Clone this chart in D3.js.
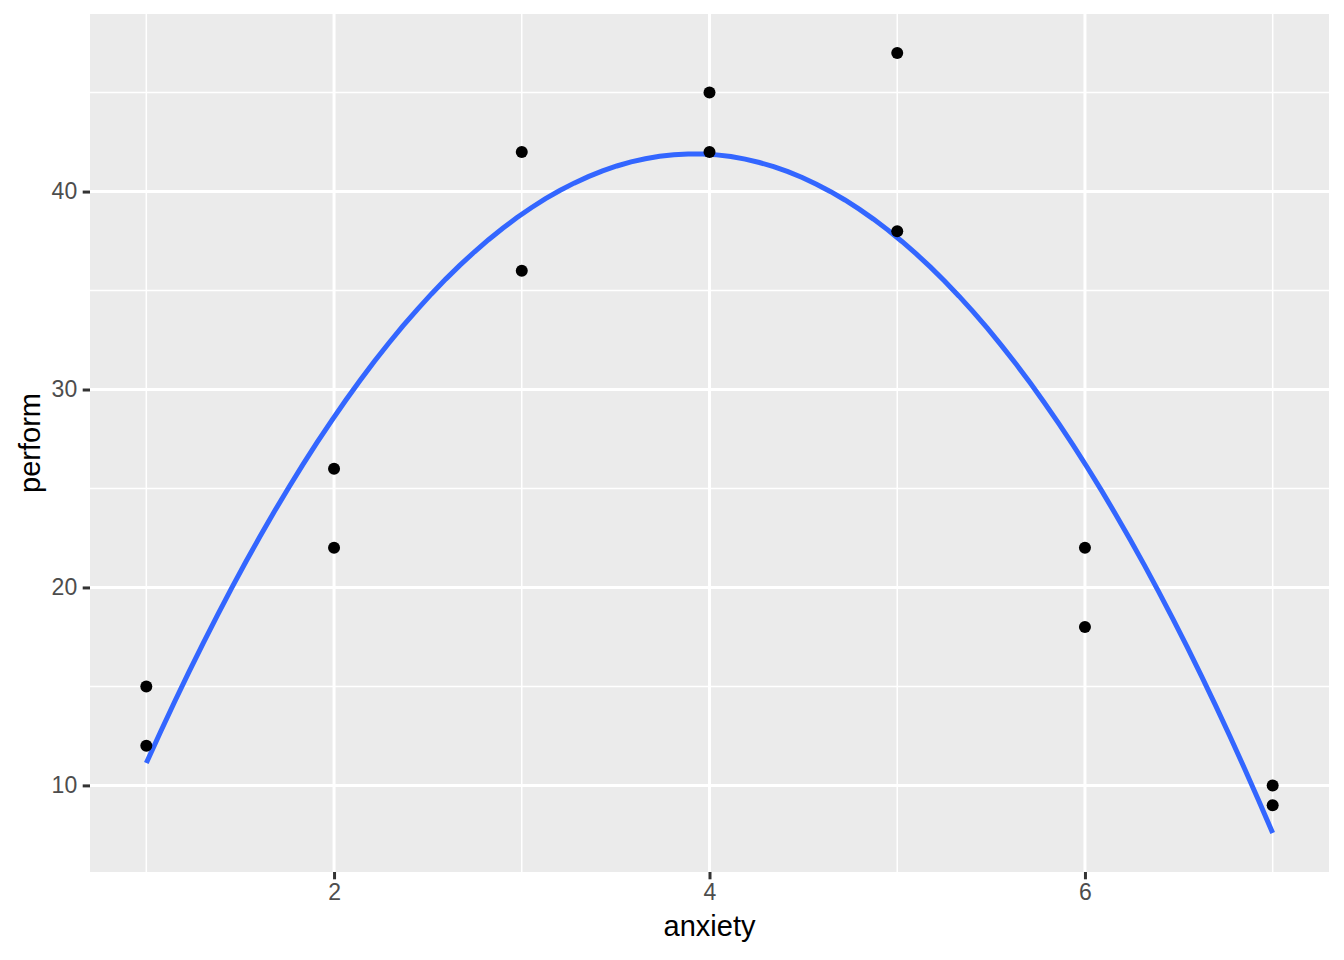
<!DOCTYPE html>
<html>
<head>
<meta charset="utf-8">
<script src="https://cdn.jsdelivr.net/npm/d3@7"></script>
<style>
  html, body { margin: 0; padding: 0; background: #fff; }
  svg { display: block; font-family: "Liberation Sans", Arial, Helvetica, sans-serif; }
</style>
</head>
<body>
<svg id="chart" width="1344" height="960"></svg>
<script>
// ---- data ----
const anxiety = [1, 1, 2, 2, 3, 3, 4, 4, 5, 5, 6, 6, 7, 7];
const perform = [15, 12, 26, 22, 42, 36, 45, 42, 47, 38, 22, 18, 10, 9];
const xTicks = [2, 4, 6];
const xMinor = [1, 3, 5, 7];
const yTicks = [10, 20, 30, 40];
const yMinor = [15, 25, 35, 45];
const xTitle = "anxiety";
const yTitle = "perform";

// ---- quadratic least squares fit (lm(y ~ poly(x, 2))) ----
function fitQuadratic(xs, ys) {
  const n = xs.length;
  let s = [0, 0, 0, 0, 0], t = [0, 0, 0];
  for (let i = 0; i < n; i++) {
    const x = xs[i], y = ys[i];
    for (let k = 0; k < 5; k++) s[k] += Math.pow(x, k);
    for (let k = 0; k < 3; k++) t[k] += Math.pow(x, k) * y;
  }
  const A = [[s[0], s[1], s[2]], [s[1], s[2], s[3]], [s[2], s[3], s[4]]];
  const b = t.slice();
  for (let i = 0; i < 3; i++) {
    for (let j = i + 1; j < 3; j++) {
      const f = A[j][i] / A[i][i];
      for (let k = i; k < 3; k++) A[j][k] -= f * A[i][k];
      b[j] -= f * b[i];
    }
  }
  const c = [0, 0, 0];
  for (let i = 2; i >= 0; i--) {
    let v = b[i];
    for (let k = i + 1; k < 3; k++) v -= A[i][k] * c[k];
    c[i] = v / A[i][i];
  }
  return x => c[0] + c[1] * x + c[2] * x * x;
}
const f = fitQuadratic(anxiety, perform);
const xMinD = d3.min(anxiety), xMaxD = d3.max(anxiety);
const smooth = d3.range(80).map(i => {
  const x = xMinD + (xMaxD - xMinD) * i / 79;
  return { x, y: f(x) };
});

// ---- layout ----
const panel = { left: 90, right: 1329, top: 14, bottom: 872 };
const svg = d3.select("#chart");

const xr = xMaxD - xMinD;
const x = d3.scaleLinear()
  .domain([xMinD - 0.05 * xr, xMaxD + 0.05 * xr])
  .range([panel.left, panel.right]);

const yAll = perform.concat(smooth.map(d => d.y));
const yLo = d3.min(yAll), yHi = d3.max(yAll), yr = yHi - yLo;
const y = d3.scaleLinear()
  .domain([yLo - 0.05 * yr, yHi + 0.05 * yr])
  .range([panel.bottom, panel.top]);

svg.append("rect")
  .attr("x", panel.left).attr("y", panel.top)
  .attr("width", panel.right - panel.left)
  .attr("height", panel.bottom - panel.top)
  .attr("fill", "#EBEBEB");

const grid = svg.append("g");
grid.selectAll("line.ymin").data(yMinor).enter().append("line")
  .attr("x1", panel.left).attr("x2", panel.right)
  .attr("y1", d => y(d)).attr("y2", d => y(d))
  .attr("stroke", "#fff").attr("stroke-width", 1.5);
grid.selectAll("line.xmin").data(xMinor).enter().append("line")
  .attr("y1", panel.top).attr("y2", panel.bottom)
  .attr("x1", d => x(d)).attr("x2", d => x(d))
  .attr("stroke", "#fff").attr("stroke-width", 1.5);
grid.selectAll("line.ymaj").data(yTicks).enter().append("line")
  .attr("x1", panel.left).attr("x2", panel.right)
  .attr("y1", d => y(d)).attr("y2", d => y(d))
  .attr("stroke", "#fff").attr("stroke-width", 3);
grid.selectAll("line.xmaj").data(xTicks).enter().append("line")
  .attr("y1", panel.top).attr("y2", panel.bottom)
  .attr("x1", d => x(d)).attr("x2", d => x(d))
  .attr("stroke", "#fff").attr("stroke-width", 3);

const line = d3.line().x(d => x(d.x)).y(d => y(d.y));
svg.append("path")
  .datum(smooth)
  .attr("d", line)
  .attr("fill", "none")
  .attr("stroke", "#3366FF")
  .attr("stroke-width", 5);

svg.append("g").selectAll("circle")
  .data(anxiety.map((a, i) => ({ a, p: perform[i] })))
  .enter().append("circle")
  .attr("cx", d => x(d.a))
  .attr("cy", d => y(d.p))
  .attr("r", 6)
  .attr("fill", "#000");

const xAxis = d3.axisBottom(x).tickValues(xTicks).tickFormat(d3.format("d"))
  .tickSize(7.3).tickSizeOuter(0).tickPadding(4);
const gx = svg.append("g").attr("transform", `translate(0,${panel.bottom})`).call(xAxis);
gx.select(".domain").remove();
gx.selectAll(".tick line").attr("stroke", "#333333").attr("stroke-width", 3);
gx.selectAll(".tick text").attr("fill", "#4D4D4D").style("font-size", "23px")
  .attr("font-family", "Liberation Sans, Arial, sans-serif");

const yAxis = d3.axisLeft(y).tickValues(yTicks).tickFormat(d3.format("d"))
  .tickSize(7.3).tickSizeOuter(0).tickPadding(5.5);
const gy = svg.append("g").attr("transform", `translate(${panel.left},0)`).call(yAxis);
gy.select(".domain").remove();
gy.selectAll(".tick line").attr("stroke", "#333333").attr("stroke-width", 3);
gy.selectAll(".tick text").attr("fill", "#4D4D4D").style("font-size", "23px")
  .attr("font-family", "Liberation Sans, Arial, sans-serif");

svg.append("text")
  .attr("x", (panel.left + panel.right) / 2)
  .attr("y", 936)
  .attr("text-anchor", "middle")
  .style("font-size", "29px")
  .attr("fill", "#000")
  .text(xTitle);

svg.append("text")
  .attr("transform", `translate(40,${(panel.top + panel.bottom) / 2}) rotate(-90)`)
  .attr("text-anchor", "middle")
  .style("font-size", "29px")
  .attr("fill", "#000")
  .text(yTitle);
</script>
</body>
</html>
